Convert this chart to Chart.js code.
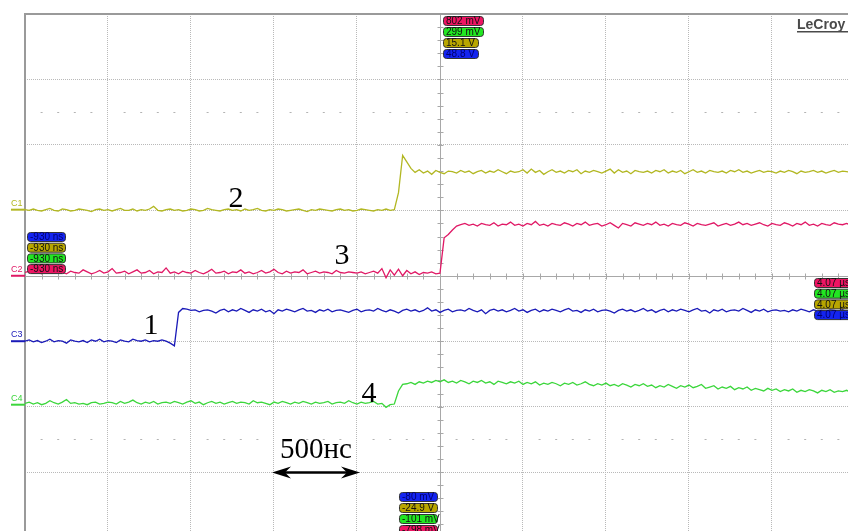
<!DOCTYPE html>
<html>
<head>
<meta charset="utf-8">
<script src="https://cdn.jsdelivr.net/npm/chart.js@4.4.0/dist/chart.umd.min.js"></script>
<style>
  html, body { margin: 0; padding: 0; background: #fff; }
  #wrap { width: 848px; height: 531px; position: relative; }
</style>
</head>
<body>
<div id="wrap"><canvas id="scopeChart"></canvas></div>
<script>
// sampling: 25 ns per point, 500 ns per division, trigger at t = 0
const sampleStart = -2500;
const sampleStep = 25;

// trace values in screen divisions (0 = centre line)
const c1Values = [
  1.01,1.00,1.02,1.00,0.99,1.01,1.03,1.00,0.99,1.02,
  1.01,0.99,1.00,1.02,1.01,1.00,0.98,1.01,1.02,1.00,
  1.01,0.99,1.01,1.03,1.00,1.00,1.02,0.99,1.01,1.00,
  1.02,1.06,1.00,0.99,1.01,1.02,1.00,1.01,0.99,1.00,
  1.02,1.01,0.99,1.00,1.03,1.01,1.00,0.99,1.01,1.02,
  1.00,1.01,0.99,1.02,1.00,1.01,1.03,1.00,0.99,1.01,
  1.00,1.02,1.01,0.99,1.00,1.01,1.02,1.00,0.98,1.01,
  1.00,1.02,1.01,1.00,0.99,1.01,1.02,1.00,1.01,0.99,
  1.00,1.02,1.01,1.00,0.99,1.01,1.00,1.02,1.00,1.01,
  1.27,1.84,1.74,1.64,1.58,1.62,1.57,1.60,1.55,1.61,
  1.58,1.56,1.60,1.59,1.57,1.61,1.58,1.60,1.56,1.59,
  1.61,1.57,1.60,1.58,1.62,1.59,1.56,1.60,1.58,1.59,
  1.62,1.57,1.63,1.58,1.61,1.55,1.59,1.62,1.58,1.60,
  1.57,1.61,1.59,1.62,1.56,1.60,1.58,1.61,1.59,1.57,
  1.60,1.63,1.57,1.62,1.58,1.60,1.56,1.61,1.59,1.58,
  1.60,1.57,1.61,1.59,1.62,1.57,1.60,1.58,1.61,1.56,
  1.59,1.62,1.58,1.60,1.57,1.61,1.59,1.58,1.60,1.57,
  1.61,1.59,1.62,1.58,1.60,1.57,1.59,1.61,1.58,1.60,
  1.59,1.57,1.60,1.58,1.61,1.59,1.56,1.60,1.58,1.59,
  1.61,1.58,1.60,1.57,1.59,1.61,1.58,1.60,1.59,1.58
];
const c2Values = [
  0.05,0.07,0.04,0.06,0.03,0.08,0.05,0.04,0.10,0.05,
  0.03,0.07,0.05,0.04,0.09,0.06,0.03,0.05,0.08,0.04,
  0.06,0.11,0.04,0.05,0.07,0.03,0.06,0.09,0.04,0.05,
  0.08,0.03,0.06,0.05,0.12,0.04,0.06,0.03,0.07,0.05,
  0.04,0.08,0.05,0.03,0.06,0.10,0.04,0.05,0.07,0.03,
  0.06,0.05,0.09,0.04,0.06,0.03,0.05,0.08,0.04,0.06,
  0.10,0.05,0.03,0.07,0.04,0.06,0.05,0.09,0.03,0.05,
  0.07,0.04,0.06,0.05,0.03,0.08,0.05,0.04,0.06,0.05,
  0.04,0.06,0.03,0.05,0.07,0.04,0.11,-0.03,0.09,0.01,
  0.10,0.00,0.08,0.03,0.06,0.02,0.05,0.04,0.06,0.03,
  0.04,
  0.58,0.63,0.70,0.76,0.78,0.80,0.77,0.79,0.76,0.80,
  0.78,0.77,0.81,0.76,0.79,0.78,0.82,0.77,0.79,0.76,
  0.80,0.78,0.83,0.77,0.79,0.76,0.80,0.78,0.77,0.81,
  0.79,0.76,0.80,0.78,0.82,0.77,0.79,0.80,0.76,0.78,
  0.81,0.77,0.73,0.80,0.78,0.76,0.81,0.79,0.77,0.80,
  0.78,0.82,0.77,0.79,0.76,0.80,0.78,0.77,0.81,0.79,
  0.76,0.80,0.78,0.77,0.79,0.81,0.76,0.78,0.80,0.77,
  0.79,0.82,0.78,0.80,0.77,0.79,0.81,0.78,0.76,0.80,
  0.78,0.77,0.81,0.79,0.76,0.80,0.78,0.82,0.77,0.79,
  0.76,0.80,0.78,0.77,0.81,0.79,0.78,0.80,0.77
];
const c3Values = [
  -1.00,-0.98,-1.01,-0.99,-1.02,-1.00,-0.97,-1.01,-0.99,-1.00,
  -1.03,-0.98,-1.00,-1.01,-0.99,-1.02,-0.98,-1.00,-0.97,-1.01,
  -0.99,-1.00,-1.02,-0.98,-1.00,-1.01,-0.97,-0.99,-1.00,-0.98,
  -1.01,-0.99,-1.00,-0.98,-1.00,-1.03,-1.07,
  -0.56,-0.50,-0.51,-0.53,-0.52,-0.55,-0.53,-0.52,-0.54,-0.57,
  -0.53,-0.51,-0.55,-0.52,-0.54,-0.50,-0.53,-0.56,-0.52,-0.54,
  -0.51,-0.55,-0.53,-0.58,-0.52,-0.54,-0.51,-0.53,-0.55,-0.52,
  -0.50,-0.54,-0.53,-0.56,-0.52,-0.54,-0.51,-0.55,-0.53,-0.52,
  -0.54,-0.56,-0.53,-0.51,-0.55,-0.53,-0.52,-0.54,-0.50,-0.53,
  -0.55,-0.52,-0.54,-0.57,-0.53,-0.51,-0.54,-0.52,-0.55,-0.53,
  -0.49,-0.54,-0.52,-0.56,-0.53,-0.51,-0.55,-0.53,-0.52,-0.54,
  -0.50,-0.53,-0.55,-0.52,-0.58,-0.53,-0.51,-0.54,-0.52,-0.55,
  -0.53,-0.50,-0.54,-0.52,-0.56,-0.53,-0.51,-0.55,-0.52,-0.54,
  -0.51,-0.53,-0.55,-0.52,-0.50,-0.54,-0.53,-0.56,-0.52,-0.54,
  -0.51,-0.55,-0.53,-0.52,-0.54,-0.57,-0.53,-0.51,-0.54,-0.52,
  -0.55,-0.53,-0.50,-0.54,-0.52,-0.56,-0.53,-0.51,-0.55,-0.52,
  -0.54,-0.51,-0.53,-0.55,-0.52,-0.50,-0.54,-0.53,-0.57,-0.52,
  -0.54,-0.51,-0.55,-0.53,-0.52,-0.54,-0.50,-0.53,-0.56,-0.52,
  -0.54,-0.51,-0.55,-0.53,-0.52,-0.54,-0.53,-0.55,-0.52,-0.54,
  -0.51,-0.53,-0.55,-0.52,-0.54,-0.53,-0.55,-0.52,-0.53,-0.54,
  -0.52,-0.55,-0.53
];
const c4Values = [
  -1.95,-1.93,-1.96,-1.94,-1.97,-1.95,-1.91,-1.94,-1.96,-1.93,
  -1.89,-1.95,-1.94,-1.96,-1.95,-1.97,-1.94,-1.93,-1.96,-1.95,
  -1.93,-1.94,-1.96,-1.92,-1.95,-1.93,-1.90,-1.94,-1.96,-1.93,
  -1.95,-1.92,-1.96,-1.94,-1.93,-1.95,-1.92,-1.94,-1.96,-1.93,
  -1.91,-1.95,-1.93,-1.97,-1.94,-1.92,-1.95,-1.93,-1.96,-1.94,
  -1.92,-1.95,-1.93,-1.94,-1.96,-1.91,-1.94,-1.93,-1.95,-1.97,
  -1.93,-1.95,-1.92,-1.94,-1.96,-1.93,-1.95,-1.92,-1.94,-1.96,
  -1.93,-1.95,-1.94,-1.92,-1.96,-1.94,-1.93,-1.95,-1.91,-1.94,
  -1.96,-1.93,-1.95,-1.94,-1.92,-1.96,-1.95,-2.01,-1.97,-1.96,
  -1.76,-1.66,-1.65,-1.63,-1.66,-1.62,-1.64,-1.61,-1.63,-1.60,
  -1.62,-1.59,-1.63,-1.61,-1.64,-1.60,-1.62,-1.65,-1.61,-1.63,
  -1.60,-1.64,-1.62,-1.66,-1.61,-1.63,-1.65,-1.62,-1.64,-1.61,
  -1.66,-1.63,-1.65,-1.62,-1.67,-1.64,-1.66,-1.63,-1.65,-1.68,
  -1.64,-1.66,-1.63,-1.67,-1.65,-1.62,-1.66,-1.68,-1.65,-1.67,
  -1.64,-1.68,-1.66,-1.69,-1.65,-1.67,-1.70,-1.66,-1.68,-1.65,
  -1.69,-1.67,-1.71,-1.68,-1.70,-1.66,-1.69,-1.72,-1.68,-1.70,
  -1.67,-1.71,-1.69,-1.66,-1.72,-1.70,-1.68,-1.73,-1.70,-1.72,
  -1.69,-1.74,-1.71,-1.73,-1.70,-1.75,-1.72,-1.74,-1.76,-1.72,
  -1.75,-1.73,-1.77,-1.74,-1.76,-1.73,-1.78,-1.75,-1.77,-1.74,
  -1.76,-1.79,-1.75,-1.77,-1.74,-1.78,-1.76,-1.77,-1.75,-1.78
];

const channelNames = ['C1', 'C2', 'C3', 'C4'];
const channelLevels = [1.01, 0, -1.0, -1.97];   // offset markers, divisions
const traceColors = ['#b2b722', '#e01865', '#1a1ab8', '#3bd63b'];
const tagColors = { C1: '#b8a600', C2: '#ee1463', C3: '#1424f0', C4: '#22e622' };
const traceNumbers = ['2', '3', '1', '4'];

// readout tags: [channel, text]
const topTags = [['C2', '802 mV'], ['C4', '299 mV'], ['C1', '15.1 V'], ['C3', '48.8 V']];
const leftTags = [['C3', '-930 ns'], ['C1', '-930 ns'], ['C4', '-930 ns'], ['C2', '-930 ns']];
const rightTags = [['C2', '4.07 µs'], ['C4', '4.07 µs'], ['C1', '4.07 µs'], ['C3', '4.07 µs']];
const bottomTags = [['C3', '-80 mV'], ['C1', '-24.9 V'], ['C4', '-101 mV'], ['C2', '-798 mV']];
const timeBaseLabel = '500нс';

function toPoints(values) {
    return values.map((v, i) => ({ x: sampleStart + i * sampleStep, y: v }));
}

function drawTag(ctx, x, y, w, ch, text) {
    ctx.beginPath();
    ctx.roundRect(x + 0.5, y + 0.5, w, 9, 3);
    ctx.fillStyle = tagColors[ch];
    ctx.fill();
    ctx.strokeStyle = '#333';
    ctx.lineWidth = 1;
    ctx.stroke();
    ctx.fillStyle = ch === 'C3' ? '#000070' : '#111';
    ctx.font = '10px "Liberation Sans", Arial';
    ctx.textAlign = 'left';
    ctx.textBaseline = 'middle';
    ctx.fillText(text, x + 3, y + 5.5);
}

const scopeDecor = {
    id: 'scopeDecor',
    beforeDatasetsDraw(chart) {
        const { ctx, chartArea: a, scales: { x, y } } = chart;
        ctx.save();

        // short dash marks on the half-division rows
        ctx.strokeStyle = '#b4b4b4';
        ctx.lineWidth = 1;
        [2.5, -2.5].forEach(v => {
            const py = Math.round(y.getPixelForValue(v)) + 0.5;
            for (let t = -2400; t < 2500; t += 100) {
                if (t % 500 === 0) continue;
                const px = x.getPixelForValue(t);
                ctx.beginPath();
                ctx.moveTo(px - 1, py);
                ctx.lineTo(px + 1, py);
                ctx.stroke();
            }
        });

        // centre cross with minor ticks
        const cx = Math.round(x.getPixelForValue(0)) + 0.5;
        const cy = Math.round(y.getPixelForValue(0)) + 0.5;
        ctx.strokeStyle = '#a8a8a8';
        ctx.beginPath();
        ctx.moveTo(cx, a.top); ctx.lineTo(cx, a.bottom);
        ctx.moveTo(a.left, cy); ctx.lineTo(a.right, cy);
        ctx.stroke();
        ctx.beginPath();
        for (let t = -2400; t < 2500; t += 100) {
            const px = Math.round(x.getPixelForValue(t)) + 0.5;
            ctx.moveTo(px, cy - 3); ctx.lineTo(px, cy + 3);
        }
        for (let v = -3.8; v < 4; v += 0.2) {
            const py = Math.round(y.getPixelForValue(v)) + 0.5;
            ctx.moveTo(cx - 3, py); ctx.lineTo(cx + 3, py);
        }
        ctx.stroke();

        // frame
        ctx.strokeStyle = '#9a9a9a';
        ctx.lineWidth = 2;
        ctx.beginPath();
        ctx.moveTo(a.left, a.bottom); ctx.lineTo(a.left, a.top); ctx.lineTo(a.right, a.top);
        ctx.stroke();

        // channel offset markers
        channelNames.forEach((name, k) => {
            const py = y.getPixelForValue(channelLevels[k]);
            ctx.strokeStyle = traceColors[k];
            ctx.lineWidth = 2;
            ctx.beginPath();
            ctx.moveTo(11, py); ctx.lineTo(a.left, py);
            ctx.stroke();
            ctx.fillStyle = traceColors[k];
            ctx.font = '9px "Liberation Sans", Arial';
            ctx.textAlign = 'left';
            ctx.textBaseline = 'bottom';
            ctx.fillText(name, 11, py - 2);
        });
        ctx.restore();
    },
    afterDatasetsDraw(chart) {
        const { ctx, scales: { x, y } } = chart;
        ctx.save();

        // trace numbers
        const numPos = [[-1229, 1.19], [-590, 0.31], [-1741, -0.75], [-428, -1.80]];
        ctx.fillStyle = '#000';
        ctx.font = '30px "Liberation Serif", "Times New Roman", serif';
        ctx.textAlign = 'center';
        ctx.textBaseline = 'middle';
        traceNumbers.forEach((n, k) => {
            ctx.fillText(n, x.getPixelForValue(numPos[k][0]), y.getPixelForValue(numPos[k][1]) + 1);
        });

        // time base arrow
        const x0 = x.getPixelForValue(-1012), x1 = x.getPixelForValue(-482);
        const ay = Math.round(y.getPixelForValue(-3)) + 0.5;
        ctx.strokeStyle = '#000';
        ctx.lineWidth = 2.5;
        ctx.beginPath();
        ctx.moveTo(x0 + 8, ay); ctx.lineTo(x1 - 8, ay);
        ctx.stroke();
        [[x0, 1], [x1, -1]].forEach(([px, d]) => {
            ctx.beginPath();
            ctx.moveTo(px, ay);
            ctx.lineTo(px + d * 19, ay - 6);
            ctx.lineTo(px + d * 13, ay);
            ctx.lineTo(px + d * 19, ay + 6);
            ctx.closePath();
            ctx.fill();
        });
        ctx.font = '29px "Liberation Serif", "Times New Roman", serif';
        ctx.textBaseline = 'alphabetic';
        ctx.fillText(timeBaseLabel, (x0 + x1) / 2, y.getPixelForValue(-2.78));

        // readout tags
        const tx = x.getPixelForValue(0);
        topTags.forEach(([ch, t], k) => drawTag(ctx, tx + 3, 16 + k * 11, ch === 'C1' || ch === 'C3' ? 35 : 40, ch, t));
        leftTags.forEach(([ch, t], k) => drawTag(ctx, 27, 232 + k * 10.7, 38, ch, t));
        rightTags.forEach(([ch, t], k) => drawTag(ctx, 814, 278 + k * 10.7, 44, ch, t));
        bottomTags.forEach(([ch, t], k) => drawTag(ctx, tx - 41, 492 + k * 11, 38, ch, t));

        // brand
        ctx.fillStyle = '#4a4a4a';
        ctx.font = 'bold 14px "Liberation Sans", Arial';
        ctx.textAlign = 'left';
        ctx.textBaseline = 'alphabetic';
        ctx.fillText('LeCroy', 797, 29);
        ctx.fillRect(797, 31, 52, 1.5);
        ctx.restore();
    }
};

const gridStyle = { color: '#b9b9b9', drawTicks: false, lineWidth: 1 };

const chart = new Chart(document.getElementById('scopeChart').getContext('2d'), {
    type: 'line',
    data: {
        datasets: [c1Values, c2Values, c3Values, c4Values].map((vals, k) => ({
            label: channelNames[k],
            data: toPoints(vals),
            borderColor: traceColors[k],
            borderWidth: 1.3,
            pointRadius: 0,
            tension: 0,
            fill: false
        }))
    },
    options: {
        responsive: true,
        maintainAspectRatio: false,
        animation: false,
        layout: { padding: { left: 25, top: 14, right: 0, bottom: 0 } },
        plugins: { legend: { display: false }, tooltip: { enabled: false } },
        scales: {
            x: {
                type: 'linear',
                min: -2500,
                max: 2458,
                afterBuildTicks: s => { s.ticks = [-2000, -1500, -1000, -500, 500, 1000, 1500, 2000].map(v => ({ value: v })); },
                ticks: { display: false },
                grid: gridStyle,
                border: { display: false, dash: [1, 1] }
            },
            y: {
                type: 'linear',
                min: -3.9,
                max: 4,
                afterBuildTicks: s => { s.ticks = [-3, -2, -1, 1, 2, 3].map(v => ({ value: v })); },
                ticks: { display: false },
                grid: gridStyle,
                border: { display: false, dash: [1, 1] }
            }
        }
    },
    plugins: [scopeDecor]
});
</script>
</body>
</html>
